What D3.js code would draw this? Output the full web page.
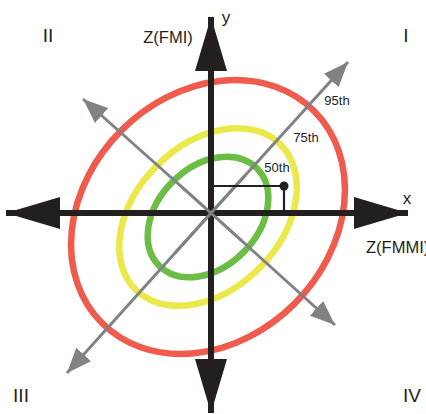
<!DOCTYPE html>
<html>
<head>
<meta charset="utf-8">
<script src="https://cdn.jsdelivr.net/npm/d3@7"></script>
<style>
  html, body { margin: 0; padding: 0; background: #fff; }
  svg { display: block; }
  text { font-family: "Liberation Sans", Arial, sans-serif; fill: #231f20; }
</style>
</head>
<body>
<script>
const width = 426;
const height = 414;

// percentile contours (z-units), outer to inner
const percentiles = ["95th", "75th", "50th"];
const majorAxis = [3.0, 2.05, 1.38];
const minorAxis = [2.45, 1.45, 1.0];
const contourColors = ["#ef5b4c", "#ebe84a", "#6cbd45"];
const contourCenter = [-0.06, -0.08];
const percentileLabelPos = [[2.52, 2.26], [1.9, 1.52], [1.32, 0.92]];

// main axes: [from, to] in z-units
const axisX = [-4.1, 3.94];
const axisY = [-4.0, 3.92];

// rotated (gray) axes: endpoints
const diagonals = [
  [[-2.88, -3.2], [2.74, 3.02]],
  [[2.48, -2.24], [-2.56, 2.28]]
];

// example observation
const sample = [1.46, 0.54];

const quadrants = ["I", "II", "III", "IV"];
const quadrantPos = [[3.9, 3.56], [-3.26, 3.56], [-3.8, -3.64], [4.02, -3.64]];

const x = d3.scaleLinear().domain([-4.1, 4.1]).range([6, 416]);
const y = d3.scaleLinear().domain([-4, 4]).range([413, 13]);

const svg = d3.select("body")
  .append("svg")
  .attr("width", width)
  .attr("height", height);

const defs = svg.append("defs");

defs.append("marker")
  .attr("id", "headBlack")
  .attr("markerUnits", "userSpaceOnUse")
  .attr("viewBox", "0 -16 54 32")
  .attr("refX", 54).attr("refY", 0)
  .attr("markerWidth", 54).attr("markerHeight", 32)
  .attr("orient", "auto")
  .append("path")
  .attr("d", "M0,-16L54,0L0,16Z")
  .attr("fill", "#231f20");

defs.append("marker")
  .attr("id", "headGray")
  .attr("markerUnits", "userSpaceOnUse")
  .attr("viewBox", "0 -10 25 20")
  .attr("refX", 25).attr("refY", 0)
  .attr("markerWidth", 25).attr("markerHeight", 20)
  .attr("orient", "auto")
  .append("path")
  .attr("d", "M0,-10L25,0L0,10Z")
  .attr("fill", "#808285");

// contours
svg.selectAll("ellipse.contour")
  .data(percentiles)
  .join("ellipse")
  .attr("class", "contour")
  .attr("cx", x(contourCenter[0]))
  .attr("cy", y(contourCenter[1]))
  .attr("rx", (d, i) => x(majorAxis[i]) - x(0))
  .attr("ry", (d, i) => x(minorAxis[i]) - x(0))
  .attr("transform", `rotate(-45,${x(contourCenter[0])},${y(contourCenter[1])})`)
  .attr("fill", "none")
  .attr("stroke", (d, i) => contourColors[i])
  .attr("stroke-width", 6.5);

// gray rotated axes (both directions)
diagonals.forEach(seg => {
  [seg[0], seg[1]].forEach(end => {
    svg.append("line")
      .attr("x1", x(0)).attr("y1", y(0))
      .attr("x2", x(end[0])).attr("y2", y(end[1]))
      .attr("stroke", "#808285")
      .attr("stroke-width", 3)
      .attr("marker-end", "url(#headGray)");
  });
});

// black main axes
[[axisX[0], 0], [axisX[1], 0], [0, axisY[0]], [0, axisY[1]]].forEach(end => {
  svg.append("line")
    .attr("x1", x(0)).attr("y1", y(0))
    .attr("x2", x(end[0])).attr("y2", y(end[1]))
    .attr("stroke", "#231f20")
    .attr("stroke-width", 6)
    .attr("marker-end", "url(#headBlack)");
});

// redraw diagonals' centre crossing on top
svg.append("g").selectAll("line")
  .data(diagonals)
  .join("line")
  .attr("x1", d => x(d[0][0] * 0.25)).attr("y1", d => y(d[0][1] * 0.25))
  .attr("x2", d => x(d[1][0] * 0.25)).attr("y2", d => y(d[1][1] * 0.25))
  .attr("stroke", "#808285")
  .attr("stroke-width", 3);

// sample point with projections
svg.append("path")
  .attr("d", d3.line()([[x(0), y(sample[1])], [x(sample[0]), y(sample[1])], [x(sample[0]), y(0)]]))
  .attr("fill", "none")
  .attr("stroke", "#231f20")
  .attr("stroke-width", 2.2);

svg.append("circle")
  .attr("cx", x(sample[0]))
  .attr("cy", y(sample[1]))
  .attr("r", 4.5)
  .attr("fill", "#231f20");

// percentile labels
svg.selectAll("text.pct")
  .data(percentiles)
  .join("text")
  .attr("class", "pct")
  .attr("x", (d, i) => x(percentileLabelPos[i][0]))
  .attr("y", (d, i) => y(percentileLabelPos[i][1]))
  .attr("text-anchor", "middle")
  .attr("dominant-baseline", "central")
  .style("font-size", "13px")
  .text(d => d);

// quadrant numerals
svg.selectAll("text.quad")
  .data(quadrants)
  .join("text")
  .attr("class", "quad")
  .attr("x", (d, i) => x(quadrantPos[i][0]))
  .attr("y", (d, i) => y(quadrantPos[i][1]))
  .attr("text-anchor", "middle")
  .attr("dominant-baseline", "central")
  .style("font-size", "19px")
  .text(d => d);

// axis titles
svg.append("text")
  .attr("x", x(-0.86)).attr("y", y(3.52))
  .attr("text-anchor", "middle")
  .attr("dominant-baseline", "central")
  .style("font-size", "16.5px")
  .text("Z(FMI)");

svg.append("text")
  .attr("x", x(0.3)).attr("y", y(3.92))
  .attr("text-anchor", "middle")
  .attr("dominant-baseline", "central")
  .style("font-size", "17px")
  .text("y");

svg.append("text")
  .attr("x", x(3.92)).attr("y", y(0.3))
  .attr("text-anchor", "middle")
  .attr("dominant-baseline", "central")
  .style("font-size", "17px")
  .text("x");

svg.append("text")
  .attr("x", x(3.1)).attr("y", y(-0.68))
  .attr("dominant-baseline", "central")
  .style("font-size", "16.5px")
  .text("Z(FMMI)");
</script>
</body>
</html>
